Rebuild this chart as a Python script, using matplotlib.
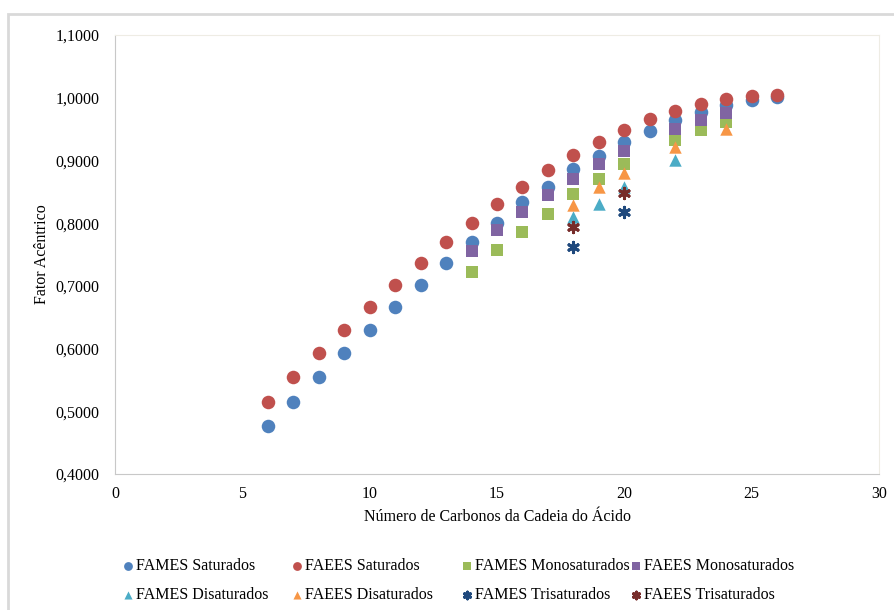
import matplotlib.pyplot as plt
from matplotlib.patches import Rectangle
from matplotlib.ticker import FuncFormatter, MultipleLocator

plt.rcParams['font.family'] = ['Liberation Serif', 'DejaVu Serif']
plt.rcParams['font.size'] = 11.5

# Dados (número de carbonos x fator acêntrico)
fames_sat_x = [6, 7, 8, 9, 10, 11, 12, 13, 14, 15, 16, 17, 18, 19, 20, 21, 22, 23, 24, 25, 26]
fames_sat_y = [0.477, 0.515, 0.555, 0.593, 0.629, 0.666, 0.701, 0.736, 0.770, 0.801, 0.834, 0.858,
               0.886, 0.907, 0.929, 0.947, 0.964, 0.978, 0.989, 0.996, 1.001]
faees_sat_x = [6, 7, 8, 9, 10, 11, 12, 13, 14, 15, 16, 17, 18, 19, 20, 21, 22, 23, 24, 25, 26]
faees_sat_y = [0.515, 0.555, 0.593, 0.629, 0.666, 0.702, 0.736, 0.770, 0.801, 0.831, 0.857, 0.885,
               0.909, 0.930, 0.949, 0.966, 0.979, 0.990, 0.998, 1.002, 1.004]
fames_mono_x = [14, 15, 16, 17, 18, 19, 20, 22, 23, 24]
fames_mono_y = [0.722, 0.757, 0.786, 0.815, 0.846, 0.870, 0.894, 0.933, 0.948, 0.961]
faees_mono_x = [14, 15, 16, 17, 18, 19, 20, 22, 23, 24]
faees_mono_y = [0.756, 0.789, 0.817, 0.845, 0.870, 0.894, 0.915, 0.950, 0.964, 0.976]
fames_di_x = [18, 19, 20, 22]
fames_di_y = [0.810, 0.830, 0.857, 0.901]
faees_di_x = [18, 19, 20, 22, 24]
faees_di_y = [0.829, 0.858, 0.880, 0.922, 0.950]
fames_tri_x = [18, 20]
fames_tri_y = [0.762, 0.818]
faees_tri_x = [18, 20]
faees_tri_y = [0.794, 0.848]

series = [
    ('FAMES Saturados', fames_sat_x, fames_sat_y, '#4F81BD', 'o'),
    ('FAEES Saturados', faees_sat_x, faees_sat_y, '#C0504D', 'o'),
    ('FAMES Monosaturados', fames_mono_x, fames_mono_y, '#9BBB59', 's'),
    ('FAEES Monosaturados', faees_mono_x, faees_mono_y, '#8064A2', 's'),
    ('FAMES Disaturados', fames_di_x, fames_di_y, '#4BACC6', '^'),
    ('FAEES Disaturados', faees_di_x, faees_di_y, '#F79646', '^'),
    ('FAMES Trisaturados', fames_tri_x, fames_tri_y, '#1F497D', (6, 2, 0)),
    ('FAEES Trisaturados', faees_tri_x, faees_tri_y, '#772C2A', (6, 2, 0)),
]

fig = plt.figure(figsize=(8.94, 6.10), dpi=100)
ax = fig.add_axes([115 / 894, 1 - 474 / 610, 764 / 894, 439 / 610])

# moldura externa do gráfico
fig.patches.append(Rectangle((8 / 894, -0.1), 1.2, (1 - 14 / 610) + 0.1,
                             transform=fig.transFigure, fill=False,
                             edgecolor='#d9d9d9', linewidth=2))

handles = []
for label, xs, ys, color, marker in series:
    if isinstance(marker, tuple):
        h = ax.scatter(xs, ys, marker=marker, s=55, color=color, linewidths=2.2, label=label)
    else:
        size = 75 if marker == 's' else (80 if marker == '^' else 95)
        h = ax.scatter(xs, ys, marker=marker, s=size, color=color, linewidths=0, label=label)
    handles.append(h)

ax.set_xlim(0, 30)
ax.set_ylim(0.4, 1.1)
ax.xaxis.set_major_locator(MultipleLocator(5))
ax.yaxis.set_major_locator(MultipleLocator(0.1))
ax.yaxis.set_major_formatter(FuncFormatter(lambda v, p: f'{v:.4f}'.replace('.', ',')))
ax.tick_params(length=0, labelsize=11.5, colors='#000000')
ax.tick_params(axis='x', pad=9)
ax.tick_params(axis='y', pad=11)
for side in ['left', 'bottom']:
    ax.spines[side].set_color('#c8c8c8')
for side in ['top', 'right']:
    ax.spines[side].set_color('#eeece4')

ax.set_xlabel('Número de Carbonos da Cadeia do Ácido', fontsize=11.5)
ax.set_ylabel('Fator Acêntrico', fontsize=11.5)
ax.xaxis.set_label_coords(0.5, (474 - 509) / 439)
ax.yaxis.set_label_coords((50 - 115) / 764, 0.5)

# legenda em quatro colunas, duas linhas
col_x = [120, 289, 459, 628]
for i, x0 in enumerate(col_x):
    leg = fig.legend([handles[i], handles[i + 4]], [series[i][0], series[i + 4][0]],
                     loc='upper left', bbox_to_anchor=(x0 / 894, 1 - 558 / 610),
                     frameon=False, fontsize=11.5, handletextpad=0.0, handlelength=1.0,
                     labelspacing=0.8, markerscale=0.65, borderpad=0, borderaxespad=0)

fig.savefig('out.png', dpi=100)
